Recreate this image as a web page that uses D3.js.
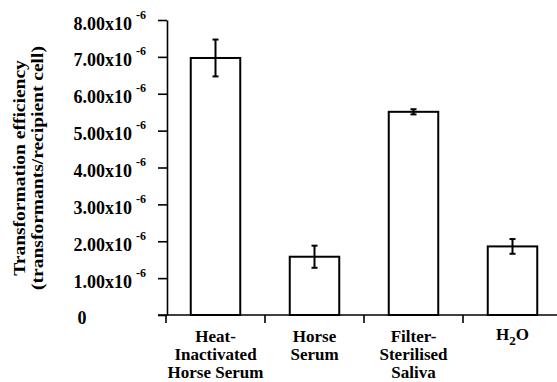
<!DOCTYPE html>
<html>
<head>
<meta charset="utf-8">
<script src="https://cdn.jsdelivr.net/npm/d3@7"></script>
<style>
  body { margin: 0; background: #fff; }
  text { font-family: "Liberation Serif", "Times New Roman", serif; font-weight: bold; fill: #000; }
</style>
</head>
<body>
<div id="container"></div>
<script>
// data
const categories = [
  ["Heat-", "Inactivated", "Horse Serum"],
  ["Horse", "Serum"],
  ["Filter-", "Sterilised", "Saliva"],
  ["H2O"]
]
const means = [6.97e-6, 1.58e-6, 5.51e-6, 1.86e-6]
const errors = [0.50e-6, 0.30e-6, 0.07e-6, 0.20e-6]
const yTicks = [0, 1e-6, 2e-6, 3e-6, 4e-6, 5e-6, 6e-6, 7e-6, 8e-6]

const w = 557
const h = 382

const svg = d3.select('#container')
    .append('svg')
    .attr('width', w)
    .attr('height', h)

// scales
const y = d3.scaleLinear()
    .domain([0, 8e-6])
    .range([315, 20])

const x = d3.scaleBand()
    .domain(d3.range(categories.length))
    .range([166, 562])
    .paddingInner(0.5)
    .paddingOuter(0.25)

// y axis
const yAxis = svg.append('g')
    .attr('transform', 'translate(167,0)')
    .call(d3.axisLeft(y).tickValues(yTicks).tickSize(9).tickSizeOuter(0).tickFormat(''))

yAxis.select('.domain').attr('stroke', '#000').attr('stroke-width', 1.6)
yAxis.selectAll('.tick line').attr('stroke', '#000').attr('stroke-width', 1.6)

yAxis.selectAll('.tick').each(function(d) {
  const g = d3.select(this)
  if (d === 0) {
    g.append('text')
      .attr('x', -85)
      .attr('y', 8)
      .attr('text-anchor', 'middle')
      .style('font-size', '18px')
      .text('0')
    return
  }
  g.append('text')
    .attr('x', -35)
    .attr('y', 9)
    .attr('text-anchor', 'end')
    .style('font-size', '18px')
    .text((d * 1e6).toFixed(2) + 'x10')
  g.append('text')
    .attr('x', -21)
    .attr('y', -2)
    .attr('text-anchor', 'end')
    .style('font-size', '12px')
    .text('-6')
})

// x axis
svg.append('line')
    .attr('x1', 158).attr('x2', w)
    .attr('y1', y(0)).attr('y2', y(0))
    .attr('stroke', '#000').attr('stroke-width', 1.6)

const bounds = categories.map((c, i) => x(i) - x.step() * x.paddingOuter())
svg.selectAll('line.xtick')
    .data(bounds)
    .enter()
    .append('line')
    .attr('class', 'xtick')
    .attr('x1', d => d).attr('x2', d => d)
    .attr('y1', y(0)).attr('y2', y(0) + 8)
    .attr('stroke', '#000').attr('stroke-width', 1.6)

// bars
svg.selectAll('rect.bar')
    .data(means)
    .enter()
    .append('rect')
    .attr('class', 'bar')
    .attr('x', (d, i) => x(i))
    .attr('y', d => y(d))
    .attr('width', x.bandwidth())
    .attr('height', d => y(0) - y(d))
    .attr('fill', '#fff')
    .attr('stroke', '#000')
    .attr('stroke-width', 2)

// error bars
const eb = svg.selectAll('g.err')
    .data(means)
    .enter()
    .append('g')
    .attr('class', 'err')
    .attr('transform', (d, i) => 'translate(' + (x(i) + x.bandwidth() / 2) + ',0)')

eb.append('line')
    .attr('y1', (d, i) => y(d + errors[i]))
    .attr('y2', (d, i) => y(d - errors[i]))
    .attr('stroke', '#000').attr('stroke-width', 2)
eb.append('line')
    .attr('x1', -3).attr('x2', 3)
    .attr('y1', (d, i) => y(d + errors[i])).attr('y2', (d, i) => y(d + errors[i]))
    .attr('stroke', '#000').attr('stroke-width', 2)
eb.append('line')
    .attr('x1', -3).attr('x2', 3)
    .attr('y1', (d, i) => y(d - errors[i])).attr('y2', (d, i) => y(d - errors[i]))
    .attr('stroke', '#000').attr('stroke-width', 2)

// category labels
const labels = svg.selectAll('text.cat')
    .data(categories)
    .enter()
    .append('text')
    .attr('class', 'cat')
    .attr('text-anchor', 'middle')
    .style('font-size', '17px')
    .attr('transform', (d, i) => 'translate(' + (x(i) + x.bandwidth() / 2) + ',0)')

labels.each(function(lines) {
  const t = d3.select(this)
  lines.forEach((l, j) => {
    if (l === 'H2O') {
      const ts = t.append('tspan').attr('x', 0).attr('y', 340)
      ts.text('H')
      ts.append('tspan').attr('dy', 5).style('font-size', '13px').text('2')
      ts.append('tspan').attr('dy', -5).text('O')
    } else {
      t.append('tspan').attr('x', 0).attr('y', 342 + j * 18).text(l)
    }
  })
})

// y axis title
const title = svg.append('text')
    .attr('transform', 'translate(29,168) scale(0.9,1) rotate(-90)')
    .attr('text-anchor', 'middle')
    .style('font-size', '19.5px')
title.append('tspan').attr('x', 0).attr('y', -4).text('Transformation efficiency')
title.append('tspan').attr('x', 0).attr('y', 16).text('(transformants/recipient cell)')
</script>
</body>
</html>
